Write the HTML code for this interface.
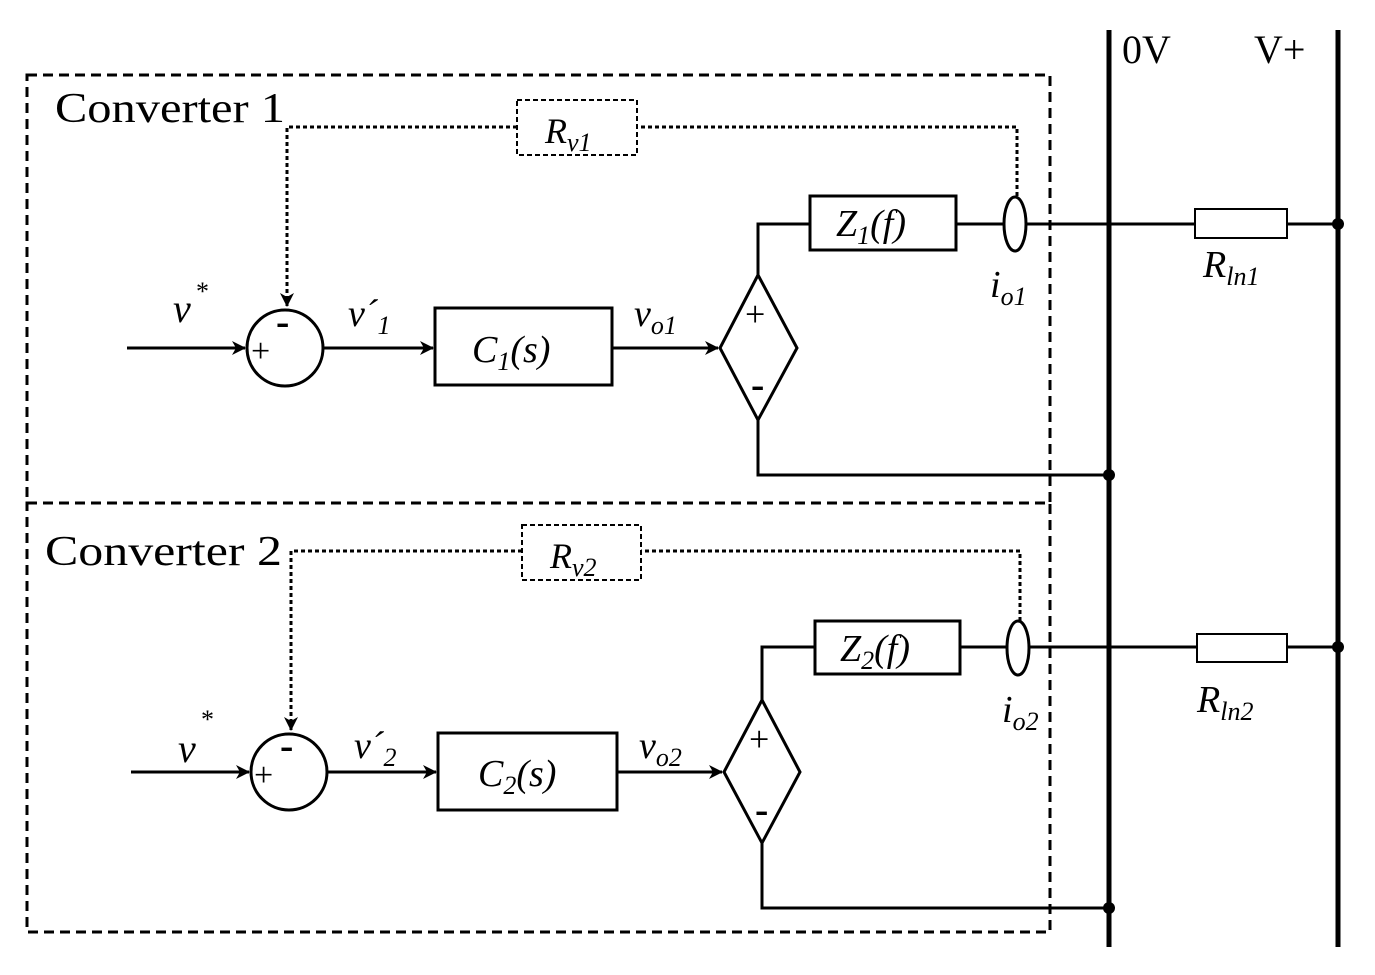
<!DOCTYPE html>
<html><head><style>body{margin:0;background:#fff}svg{display:block}text{font-family:"Liberation Serif",serif;fill:#000}</style></head><body>
<svg width="1375" height="975" viewBox="0 0 1375 975" xmlns="http://www.w3.org/2000/svg">
<defs>
<marker id="b" markerWidth="14" markerHeight="14" refX="13" refY="7" orient="auto" markerUnits="userSpaceOnUse"><path d="M0,0 L14,7 L0,14 L4,7 z" fill="#000"/></marker></defs>
<g fill="none" stroke="#000">
<rect x="27" y="75" width="1023" height="428" stroke-width="3" stroke-dasharray="10,6"/>
<rect x="27" y="503" width="1023" height="429" stroke-width="3" stroke-dasharray="10,6"/>
<line x1="1109" y1="30" x2="1109" y2="947" stroke-width="5"/>
<line x1="1338" y1="30" x2="1338" y2="947" stroke-width="5"/>
</g>
<text x="1122" y="63" font-size="40">0V</text><text x="1254" y="63" font-size="40">V+</text>

<g fill="none" stroke="#000" stroke-width="3">
<rect x="517" y="100" width="120" height="55" stroke-width="2" stroke-dasharray="5,3"/>
<polyline points="1017,196 1017,127 637,127" stroke-dasharray="4,3"/>
<polyline points="517,127 287,127 287,306" stroke-dasharray="4,3" marker-end="url(#b)"/>
<circle cx="285" cy="348" r="38"/>
<line x1="127" y1="348" x2="245" y2="348" marker-end="url(#b)"/>
<line x1="323" y1="348" x2="433" y2="348" marker-end="url(#b)"/>
<rect x="435" y="308" width="177" height="77"/>
<line x1="612" y1="348" x2="718" y2="348" marker-end="url(#b)"/>
<polygon points="758,275 797,348 758,420 720,348"/>
<polyline points="758,275 758,224 810,224"/>
<rect x="810" y="196" width="146" height="54"/>
<line x1="956" y1="224" x2="1003" y2="224"/>
<ellipse cx="1015" cy="224" rx="11" ry="27"/>
<line x1="1026" y1="224" x2="1195" y2="224"/>
<rect x="1195" y="209" width="92" height="29" stroke-width="2"/>
<line x1="1287" y1="224" x2="1338" y2="224"/>
<polyline points="758,420 758,475 1109,475"/>
</g>
<circle cx="1338" cy="224" r="6"/><circle cx="1109" cy="475" r="6"/>
<text x="55" y="122" font-size="42" textLength="230" lengthAdjust="spacingAndGlyphs">Converter 1</text>
<text x="545" y="143" font-size="36" font-style="italic">R<tspan font-size="26" dy="8">v1</tspan></text>
<text x="173" y="322" font-size="40" font-style="italic">v</text><text x="196" y="300" font-size="26">*</text>
<text x="251" y="362" font-size="34">+</text><text x="276" y="335" font-size="40" font-weight="bold">-</text>
<text x="348" y="326" font-size="38" font-style="italic">v´<tspan font-size="26" dy="8">1</tspan></text>
<text x="472" y="362" font-size="38" font-style="italic">C<tspan font-size="26" dy="8">1</tspan><tspan dy="-8">(s)</tspan></text>
<text x="634" y="326" font-size="38" font-style="italic">v<tspan font-size="26" dy="8">o1</tspan></text>
<text x="745" y="326" font-size="36">+</text><text x="751" y="398" font-size="40" font-weight="bold">-</text>
<text x="836" y="236" font-size="38" font-style="italic">Z<tspan font-size="26" dy="8">1</tspan><tspan dy="-8">(f)</tspan></text>
<text x="990" y="297" font-size="38" font-style="italic">i<tspan font-size="26" dy="8">o1</tspan></text>
<text x="1203" y="277" font-size="38" font-style="italic">R<tspan font-size="26" dy="8">ln1</tspan></text>

<g fill="none" stroke="#000" stroke-width="3">
<rect x="522" y="525" width="119" height="55" stroke-width="2" stroke-dasharray="5,3"/>
<polyline points="1020,621 1020,551 641,551" stroke-dasharray="4,3"/>
<polyline points="522,551 291,551 291,730" stroke-dasharray="4,3" marker-end="url(#b)"/>
<circle cx="289" cy="772" r="38"/>
<line x1="131" y1="772" x2="249" y2="772" marker-end="url(#b)"/>
<line x1="327" y1="772" x2="436" y2="772" marker-end="url(#b)"/>
<rect x="438" y="733" width="179" height="77"/>
<line x1="617" y1="772" x2="722" y2="772" marker-end="url(#b)"/>
<polygon points="762,700 800,772 762,843 724,772"/>
<polyline points="762,700 762,647 815,647"/>
<rect x="815" y="621" width="145" height="53"/>
<line x1="960" y1="647" x2="1007" y2="647"/>
<ellipse cx="1018" cy="648" rx="11" ry="27"/>
<line x1="1029" y1="647" x2="1197" y2="647"/>
<rect x="1197" y="634" width="90" height="28" stroke-width="2"/>
<line x1="1287" y1="647" x2="1338" y2="647"/>
<polyline points="762,843 762,908 1109,908"/>
</g>
<circle cx="1338" cy="647" r="6"/><circle cx="1109" cy="908" r="6"/>
<text x="45" y="565" font-size="42" textLength="237" lengthAdjust="spacingAndGlyphs">Converter 2</text>
<text x="550" y="568" font-size="36" font-style="italic">R<tspan font-size="26" dy="8">v2</tspan></text>
<text x="178" y="762" font-size="40" font-style="italic">v</text><text x="201" y="728" font-size="26">*</text>
<text x="254" y="786" font-size="34">+</text><text x="280" y="759" font-size="40" font-weight="bold">-</text>
<text x="354" y="758" font-size="38" font-style="italic">v´<tspan font-size="26" dy="8">2</tspan></text>
<text x="478" y="786" font-size="38" font-style="italic">C<tspan font-size="26" dy="8">2</tspan><tspan dy="-8">(s)</tspan></text>
<text x="639" y="758" font-size="38" font-style="italic">v<tspan font-size="26" dy="8">o2</tspan></text>
<text x="749" y="751" font-size="36">+</text><text x="755" y="823" font-size="40" font-weight="bold">-</text>
<text x="840" y="661" font-size="38" font-style="italic">Z<tspan font-size="26" dy="8">2</tspan><tspan dy="-8">(f)</tspan></text>
<text x="1002" y="722" font-size="38" font-style="italic">i<tspan font-size="26" dy="8">o2</tspan></text>
<text x="1197" y="712" font-size="38" font-style="italic">R<tspan font-size="26" dy="8">ln2</tspan></text>
</svg>
</body></html>
